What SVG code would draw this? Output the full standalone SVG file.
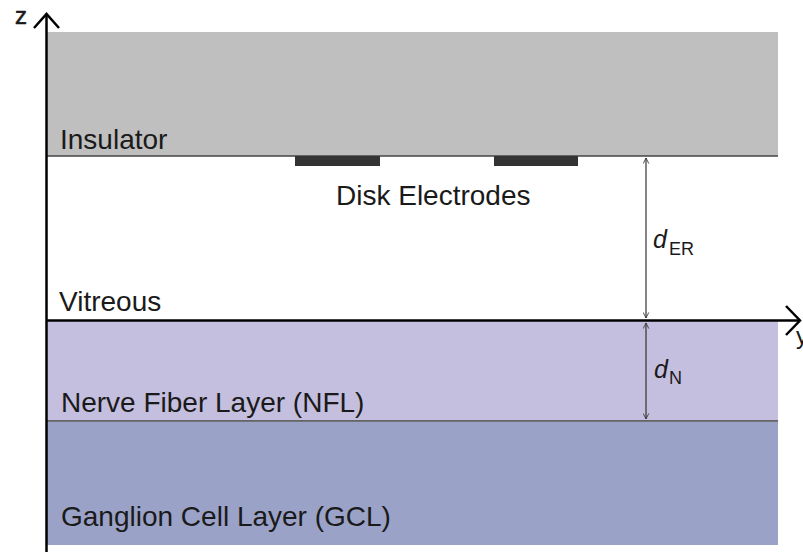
<svg xmlns="http://www.w3.org/2000/svg" width="803" height="552" viewBox="0 0 803 552">
<defs>
<style>
.lbl{font-family:"Liberation Sans",Arial,sans-serif;font-size:28px;fill:#1a1a1a}
.ax{font-family:"Liberation Sans",Arial,sans-serif;font-size:24px;fill:#1a1a1a}
.sym{font-family:"Liberation Sans",Arial,sans-serif;font-size:25px;font-style:italic;fill:#1a1a1a}
.sub{font-family:"Liberation Sans",Arial,sans-serif;font-size:18px;fill:#1a1a1a}
.bd{stroke:#444;stroke-width:1.5}
.dim{stroke:#333;stroke-width:1.2;fill:none}
.axis{stroke:#000;stroke-width:2.5;fill:none}
</style>
<marker id="dh" viewBox="0 0 10 10" refX="9" refY="5" markerWidth="7" markerHeight="7" orient="auto-start-reverse" markerUnits="userSpaceOnUse">
<path d="M1,1 L9,5 L1,9" fill="none" stroke="#333" stroke-width="1.2"/>
</marker>
</defs>
<rect width="803" height="552" fill="#fff"/>
<g id="insulator">
<rect x="47" y="32" width="731" height="124" fill="#bfbfbf"/>
<line class="bd" x1="47" y1="156" x2="778" y2="156"/>
<text class="lbl" x="60" y="149">Insulator</text>
</g>
<g id="electrodes">
<rect x="295" y="156" width="85" height="10" fill="#333"/>
<rect x="494" y="156" width="84" height="10" fill="#333"/>
<text class="lbl" x="336" y="205">Disk Electrodes</text>
</g>
<g id="vitreous">
<text class="lbl" x="59" y="311">Vitreous</text>
</g>
<g id="nfl">
<rect x="47" y="320" width="731" height="101" fill="#c5bfdf"/>
<line class="bd" x1="47" y1="421" x2="778" y2="421"/>
<text class="lbl" x="61" y="412">Nerve Fiber Layer (NFL)</text>
</g>
<g id="gcl">
<rect x="47" y="422" width="731" height="123" fill="#9aa2c7"/>
<text class="lbl" x="61" y="526">Ganglion Cell Layer (GCL)</text>
</g>
<g id="connectors">
<line class="dim" x1="646" y1="158" x2="646" y2="318" marker-start="url(#dh)" marker-end="url(#dh)"/>
<line class="dim" x1="646" y1="323" x2="646" y2="419" marker-start="url(#dh)" marker-end="url(#dh)"/>
<line class="axis" x1="46.5" y1="552" x2="46.5" y2="14"/>
<path class="axis" d="M34,28 L46.5,14 L59,28"/>
<line class="axis" x1="46" y1="320.5" x2="799" y2="320.5"/>
<path class="axis" d="M786,306 L800,320.5 L786,335"/>
</g>
<g id="labels">
<text class="ax" x="15" y="24" stroke="#1a1a1a" stroke-width="0.6">z</text>
<text class="ax" x="796" y="344">y</text>
<text class="sym" x="653" y="248">d</text>
<text class="sub" x="669" y="255">ER</text>
<text class="sym" x="654" y="378">d</text>
<text class="sub" x="669" y="384">N</text>
</g>
</svg>
